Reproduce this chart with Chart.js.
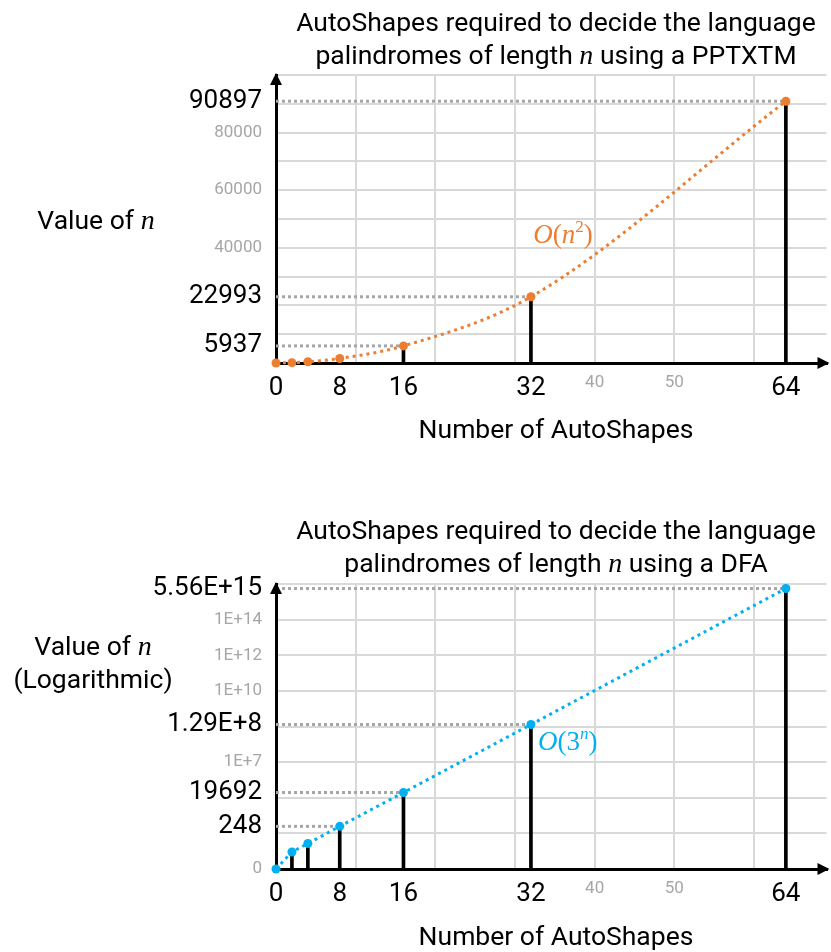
<!DOCTYPE html>
<html>
<head>
<meta charset="utf-8">
<script src="https://cdn.jsdelivr.net/npm/chart.js@4.4.0/dist/chart.umd.min.js"></script>
<style>
  html, body { margin: 0; padding: 0; background: #fff; }
  #wrap { position: relative; width: 831px; height: 952px; }
  canvas { position: absolute; left: 0; }
  #polyChart { top: 0; }
  #expChart { top: 476px; }
</style>
</head>
<body>
<div id="wrap">
  <canvas id="polyChart" width="831" height="476"></canvas>
  <canvas id="expChart" width="831" height="476"></canvas>
</div>
<script>
// number of AutoShapes (x), same for both charts
const shapeCounts = [0, 2, 4, 8, 16, 32, 64];

// top chart: PPTXTM
const pptxtmValues = [0, 130, 440, 1580, 5937, 22993, 90897];
const pptxtmGuides = [16, 32, 64];

// bottom chart: DFA (log axis)
const dfaValues = [1, 9, 27, 248, 19692, 1.29e8, 5.56e15];
const dfaGuides = [8, 16, 32, 64];

// x axis
const xLabelTicks = [0, 8, 16, 32, 64];
const xMinorTicks = [40, 50];
const xGridTicks = [10, 20, 30, 40, 50, 60];

// y axis, top chart
const polyLabelTicks = [5937, 22993, 90897];
const polyMinorTicks = [40000, 60000, 80000];
const polyGridTicks = [10000, 20000, 30000, 40000, 50000, 60000, 70000, 80000, 90000, 100000];

// y axis, bottom chart
const expLabelTicks = [248, 19692, 1.29e8, 5.56e15];
const expLabelText = ['248', '19692', '1.29E+8', '5.56E+15'];
const expMinorTicks = [1, 1e6, 1e10, 1e12, 1e14];
const expMinorText = ['0', '1E+7', '1E+10', '1E+12', '1E+14'];
const expGridTicks = [1, 1e2, 1e4, 1e6, 1e8, 1e10, 1e12, 1e14, 1e16];

const INK = '#000000';
const SOFT = '#a6a6a6';
const GRID = '#d9d9d9';
const GUIDE = '#a6a6a6';
const ORANGE = '#ED7D31';
const BLUE = '#00B0F0';
const bigFont = { family: 'Roboto', size: 26 };
const smallFont = { family: 'Roboto', size: 17 };
const NONE = 'rgba(0,0,0,0)';

const TXT = '26.5px Roboto';
const MATH = 'italic 28px "Liberation Serif"';

function uniqSorted(...lists) {
  return [...new Set([].concat(...lists))].sort((a, b) => a - b);
}

function drawRich(ctx, parts, x, y, align) {
  let w = 0;
  parts.forEach(p => { ctx.font = p.f; p.w = ctx.measureText(p.t).width; w += p.w; });
  let cx = align === 'center' ? x - w / 2 : x;
  parts.forEach(p => { ctx.font = p.f; ctx.fillText(p.t, cx, y + (p.dy || 0)); cx += p.w; });
}

const overlay = {
  id: 'overlay',
  afterDraw(chart, args, o) {
    const ctx = chart.ctx;
    const { left, right, top, bottom } = chart.chartArea;
    ctx.save();
    ctx.fillStyle = INK;
    ctx.beginPath();
    ctx.moveTo(left, top - 2); ctx.lineTo(left - 6, top + 10); ctx.lineTo(left + 6, top + 10);
    ctx.closePath(); ctx.fill();
    ctx.beginPath();
    ctx.moveTo(right + 3, bottom); ctx.lineTo(right - 9, bottom - 6); ctx.lineTo(right - 9, bottom + 6);
    ctx.closePath(); ctx.fill();

    ctx.textBaseline = 'alphabetic';
    o.title.forEach((line, i) => drawRich(ctx, line, o.titleX, o.titleY[i], 'center'));
    o.yTitle.forEach((line, i) => drawRich(ctx, line, o.yTitleX, o.yTitleY[i], 'center'));
    drawRich(ctx, [{ t: 'Number of AutoShapes', f: TXT }], o.titleX, bottom + o.xTitleGap, 'center');

    ctx.fillStyle = o.note.color;
    drawRich(ctx, o.note.parts,
      chart.scales.x.getPixelForValue(o.note.x),
      chart.scales.y.getPixelForValue(o.note.y), 'left');
    ctx.restore();
  }
};

function xAxis(height) {
  const ticks = uniqSorted(xLabelTicks, xMinorTicks, xGridTicks);
  const minor = v => xMinorTicks.includes(v);
  return {
    type: 'linear', min: 0, max: 69.1, offset: false,
    afterBuildTicks: s => { s.ticks = ticks.map(v => ({ value: v })); },
    afterFit: s => { s.height = height; },
    grid: {
      color: c => (c.tick && xGridTicks.includes(c.tick.value)) ? GRID : NONE,
      lineWidth: 2, drawTicks: false, offset: false
    },
    border: { color: INK, width: 3 },
    ticks: {
      autoSkip: false, maxRotation: 0, minRotation: 0, padding: 10,
      callback: v => (xLabelTicks.includes(v) || minor(v)) ? String(v) : '',
      font: c => (c.tick && minor(c.tick.value)) ? smallFont : bigFont,
      color: c => (c.tick && minor(c.tick.value)) ? SOFT : INK
    }
  };
}

function yAxis(type, min, max, labelTicks, labelText, minorTicks, minorText, gridTicks) {
  const ticks = uniqSorted(labelTicks, minorTicks, gridTicks);
  const lookup = v => {
    let i = labelTicks.indexOf(v);
    if (i >= 0) return labelText[i];
    i = minorTicks.indexOf(v);
    if (i >= 0) return minorText[i];
    return '';
  };
  const minor = v => minorTicks.includes(v);
  return {
    type, min, max,
    afterBuildTicks: s => { s.ticks = ticks.map(v => ({ value: v })); },
    afterFit: s => { s.width = 276; },
    grid: {
      color: c => (c.tick && gridTicks.includes(c.tick.value)) ? GRID : NONE,
      lineWidth: 2, drawTicks: false
    },
    border: { color: INK, width: 3 },
    ticks: {
      autoSkip: false, padding: 14,
      callback: v => lookup(v),
      font: c => (c.tick && minor(c.tick.value)) ? smallFont : bigFont,
      color: c => (c.tick && minor(c.tick.value)) ? SOFT : INK
    }
  };
}

function datasets(values, guides, color, smooth) {
  const pts = shapeCounts.map((x, i) => ({ x, y: values[i] }));
  const sets = [{
    type: 'line', data: pts, order: 1, clip: false,
    borderColor: color, borderWidth: 3, borderDash: [3, 4], borderCapStyle: 'butt',
    pointRadius: 4.5, pointBackgroundColor: color, pointBorderWidth: 0,
    cubicInterpolationMode: smooth ? 'monotone' : 'default', tension: 0
  }, {
    type: 'bar', data: pts, order: 3,
    backgroundColor: INK, barThickness: 3
  }];
  guides.forEach(g => {
    const v = values[shapeCounts.indexOf(g)];
    sets.push({
      type: 'line', data: [{ x: 0, y: v }, { x: g, y: v }], order: 4,
      borderColor: GUIDE, borderWidth: 3, borderDash: [3, 3], pointRadius: 0
    });
  });
  return sets;
}

function makeChart(id, cfg) {
  new Chart(document.getElementById(id), {
    type: 'scatter',
    data: { datasets: cfg.datasets },
    options: {
      responsive: false, animation: false, events: [],
      layout: { padding: { top: cfg.top, left: 0, right: 0, bottom: 0 } },
      scales: { x: cfg.x, y: cfg.y },
      plugins: { legend: { display: false }, tooltip: { enabled: false }, overlay: cfg.overlay }
    },
    plugins: [overlay]
  });
}

makeChart('polyChart', {
  top: 75,
  datasets: datasets(pptxtmValues, pptxtmGuides, ORANGE, true),
  x: xAxis(113),
  y: yAxis('linear', 0, 100000, polyLabelTicks, polyLabelTicks.map(String),
           polyMinorTicks, polyMinorTicks.map(String), polyGridTicks),
  overlay: {
    titleX: 556, titleY: [31, 64], xTitleGap: 75,
    title: [
      [{ t: 'AutoShapes required to decide the language', f: TXT }],
      [{ t: 'palindromes of length ', f: TXT }, { t: 'n', f: MATH }, { t: ' using a PPTXTM', f: TXT }]
    ],
    yTitleX: 96, yTitleY: [229],
    yTitle: [[{ t: 'Value of ', f: TXT }, { t: 'n', f: MATH }]],
    note: {
      color: ORANGE, x: 32.3, y: 41500,
      parts: [
        { t: 'O', f: 'italic 27px "Liberation Serif"' },
        { t: '(', f: '27px "Liberation Serif"' },
        { t: 'n', f: 'italic 27px "Liberation Serif"' },
        { t: '2', f: '17px "Liberation Serif"', dy: -11 },
        { t: ')', f: '27px "Liberation Serif"' }
      ]
    }
  }
});

makeChart('expChart', {
  top: 108,
  datasets: datasets(dfaValues, dfaGuides, BLUE, false),
  x: xAxis(83),
  y: yAxis('logarithmic', 1, 1e16, expLabelTicks, expLabelText,
           expMinorTicks, expMinorText, expGridTicks),
  overlay: {
    titleX: 556, titleY: [63, 96], xTitleGap: 76,
    title: [
      [{ t: 'AutoShapes required to decide the language', f: TXT }],
      [{ t: 'palindromes of length ', f: TXT }, { t: 'n', f: MATH }, { t: ' using a DFA', f: TXT }]
    ],
    yTitleX: 93, yTitleY: [179, 212],
    yTitle: [
      [{ t: 'Value of ', f: TXT }, { t: 'n', f: MATH }],
      [{ t: '(Logarithmic)', f: TXT }]
    ],
    note: {
      color: BLUE, x: 32.9, y: 4.7e6,
      parts: [
        { t: 'O', f: 'italic 27px "Liberation Serif"' },
        { t: '(', f: '27px "Liberation Serif"' },
        { t: '3', f: '27px "Liberation Serif"' },
        { t: 'n', f: 'italic 17px "Liberation Serif"', dy: -11 },
        { t: ')', f: '27px "Liberation Serif"' }
      ]
    }
  }
});
</script>
</body>
</html>
